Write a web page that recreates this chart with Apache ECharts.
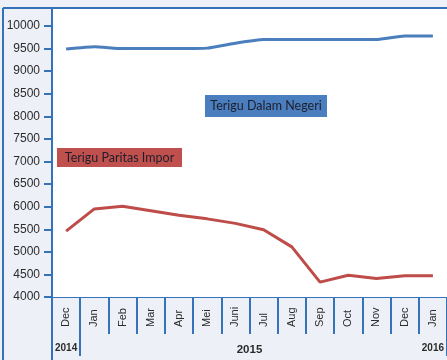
<!DOCTYPE html>
<html>
<head>
<meta charset="utf-8">
<script src="https://cdn.jsdelivr.net/npm/echarts@6/dist/echarts.min.js"></script>
<style>
  html, body { margin: 0; padding: 0; background: #eef0f8; }
  #chart { width: 447px; height: 360px; }
</style>
</head>
<body>
<div id="chart"></div>
<script>
// Monthly wheat flour prices (Rp/kg), Dec 2014 – Jan 2016
const months = ['Dec', 'Jan', 'Feb', 'Mar', 'Apr', 'Mei', 'Juni', 'Jul', 'Aug', 'Sep', 'Oct', 'Nov', 'Dec', 'Jan'];
const dalamNegeri = [9490, 9540, 9500, 9500, 9500, 9510, 9620, 9700, 9700, 9700, 9700, 9700, 9780, 9780];
const paritasImpor = [5460, 5950, 6010, 5910, 5810, 5730, 5630, 5490, 5110, 4330, 4480, 4410, 4470, 4470];
const yMin = 4000;
const yMax = 10000;
const yStep = 500;
// each year label spans the months (by index) it covers
const years = ['2014', '2015', '2016'];
const yearFirstMonth = [0, 1, 13];
const yearLastMonth = [0, 12, 13];
const seriesNames = ['Terigu Dalam Negeri', 'Terigu Paritas Impor'];

const FRAME = '#3472b9';
const BLUE = '#4a7ebd';
const RED = '#be4c49';
const TEXT = '#2b2b2b';
const LABEL_FONT = "Lato, 'Open Sans', sans-serif";

const chart = echarts.init(document.getElementById('chart'), null, { renderer: 'canvas' });

const gridLeft = 52, gridTop = 26, gridWidth = 400, gridHeight = 271;

chart.setOption({
  backgroundColor: '#eef0f8',
  animation: false,
  grid: { left: gridLeft, top: gridTop, width: gridWidth, height: gridHeight, containLabel: false },
  xAxis: [
    {
      type: 'category',
      data: months,
      boundaryGap: true,
      axisLine: { show: true, lineStyle: { color: FRAME, width: 1 } },
      axisTick: { show: true, interval: 0, length: 37, lineStyle: { color: FRAME, width: 2 } },
      axisLabel: {
        interval: 0, rotate: 90, align: 'left', verticalAlign: 'middle', margin: 30,
        color: TEXT, fontSize: 11,
        fontFamily: "'Liberation Sans Narrow', 'Liberation Sans', Arial, sans-serif"
      },
      splitLine: { show: false }
    },
    {
      // longer divider separating the 2014 column from 2015
      type: 'category',
      data: months,
      position: 'bottom',
      offset: 0,
      boundaryGap: true,
      axisLine: { show: false },
      axisTick: { show: true, interval: function (i) { return i <= 1; }, length: 59, lineStyle: { color: FRAME, width: 2 } },
      axisLabel: { show: false },
      splitLine: { show: false }
    }
  ],
  yAxis: {
    type: 'value',
    min: yMin, max: yMax, interval: yStep,
    axisLine: { show: false },
    axisTick: { show: true, length: 8, lineStyle: { color: FRAME, width: 2 } },
    axisLabel: {
      margin: 12, color: TEXT, fontSize: 12, fontFamily: "'Liberation Sans', Arial, sans-serif",
      formatter: function (v) { return String(v); }
    },
    splitLine: { show: false }
  },
  series: [
    {
      name: seriesNames[0], type: 'line', data: dalamNegeri, xAxisIndex: 0,
      symbol: 'none', smooth: 0.15,
      lineStyle: { color: BLUE, width: 3 }, z: 3
    },
    {
      name: seriesNames[1], type: 'line', data: paritasImpor, xAxisIndex: 0,
      symbol: 'none',
      lineStyle: { color: RED, width: 3 }, z: 3
    }
  ]
});

// Frame, plot background, series captions and year labels
function yearCenter(i) {
  const a = chart.convertToPixel({ xAxisIndex: 0 }, yearFirstMonth[i]);
  const b = chart.convertToPixel({ xAxisIndex: 0 }, yearLastMonth[i]);
  return (a + b) / 2;
}

const graphics = [
  { type: 'rect', z: -100, silent: true, shape: { x: 52, y: 8, width: 395, height: 290 }, style: { fill: '#ffffff' } },
  { type: 'line', z: 50, silent: true, shape: { x1: 3, y1: 8, x2: 447, y2: 8 }, style: { stroke: FRAME, lineWidth: 2 } },
  { type: 'line', z: 50, silent: true, shape: { x1: 3, y1: 8, x2: 3, y2: 360 }, style: { stroke: FRAME, lineWidth: 2 } },
  { type: 'line', z: 50, silent: true, shape: { x1: 52, y1: 8, x2: 52, y2: 360 }, style: { stroke: FRAME, lineWidth: 2 } },
  // caption boxes
  { type: 'rect', z: 40, silent: true, shape: { x: 205, y: 95, width: 122, height: 22 }, style: { fill: '#4a7ebf' } },
  { type: 'text', z: 41, silent: true, x: 266, y: 106,
    style: { text: seriesNames[0], fill: '#1e1e2a', font: '12.5px ' + LABEL_FONT, align: 'center', verticalAlign: 'middle' } },
  { type: 'rect', z: 40, silent: true, shape: { x: 57, y: 148, width: 125, height: 19 }, style: { fill: '#c0504d' } },
  { type: 'text', z: 41, silent: true, x: 119.5, y: 157.5,
    style: { text: seriesNames[1], fill: '#1e1e2a', font: '12.5px ' + LABEL_FONT, align: 'center', verticalAlign: 'middle' } }
];

years.forEach(function (label, i) {
  const big = yearLastMonth[i] > yearFirstMonth[i];
  graphics.push({
    type: 'text', z: 41, silent: true, x: yearCenter(i), y: big ? 350 : 348,
    style: {
      text: label, fill: TEXT, align: 'center', verticalAlign: 'middle',
      font: 'bold ' + (big ? 11.5 : 10) + "px 'Liberation Sans', Arial, sans-serif"
    }
  });
});

chart.setOption({ graphic: { elements: graphics } });
</script>
</body>
</html>
